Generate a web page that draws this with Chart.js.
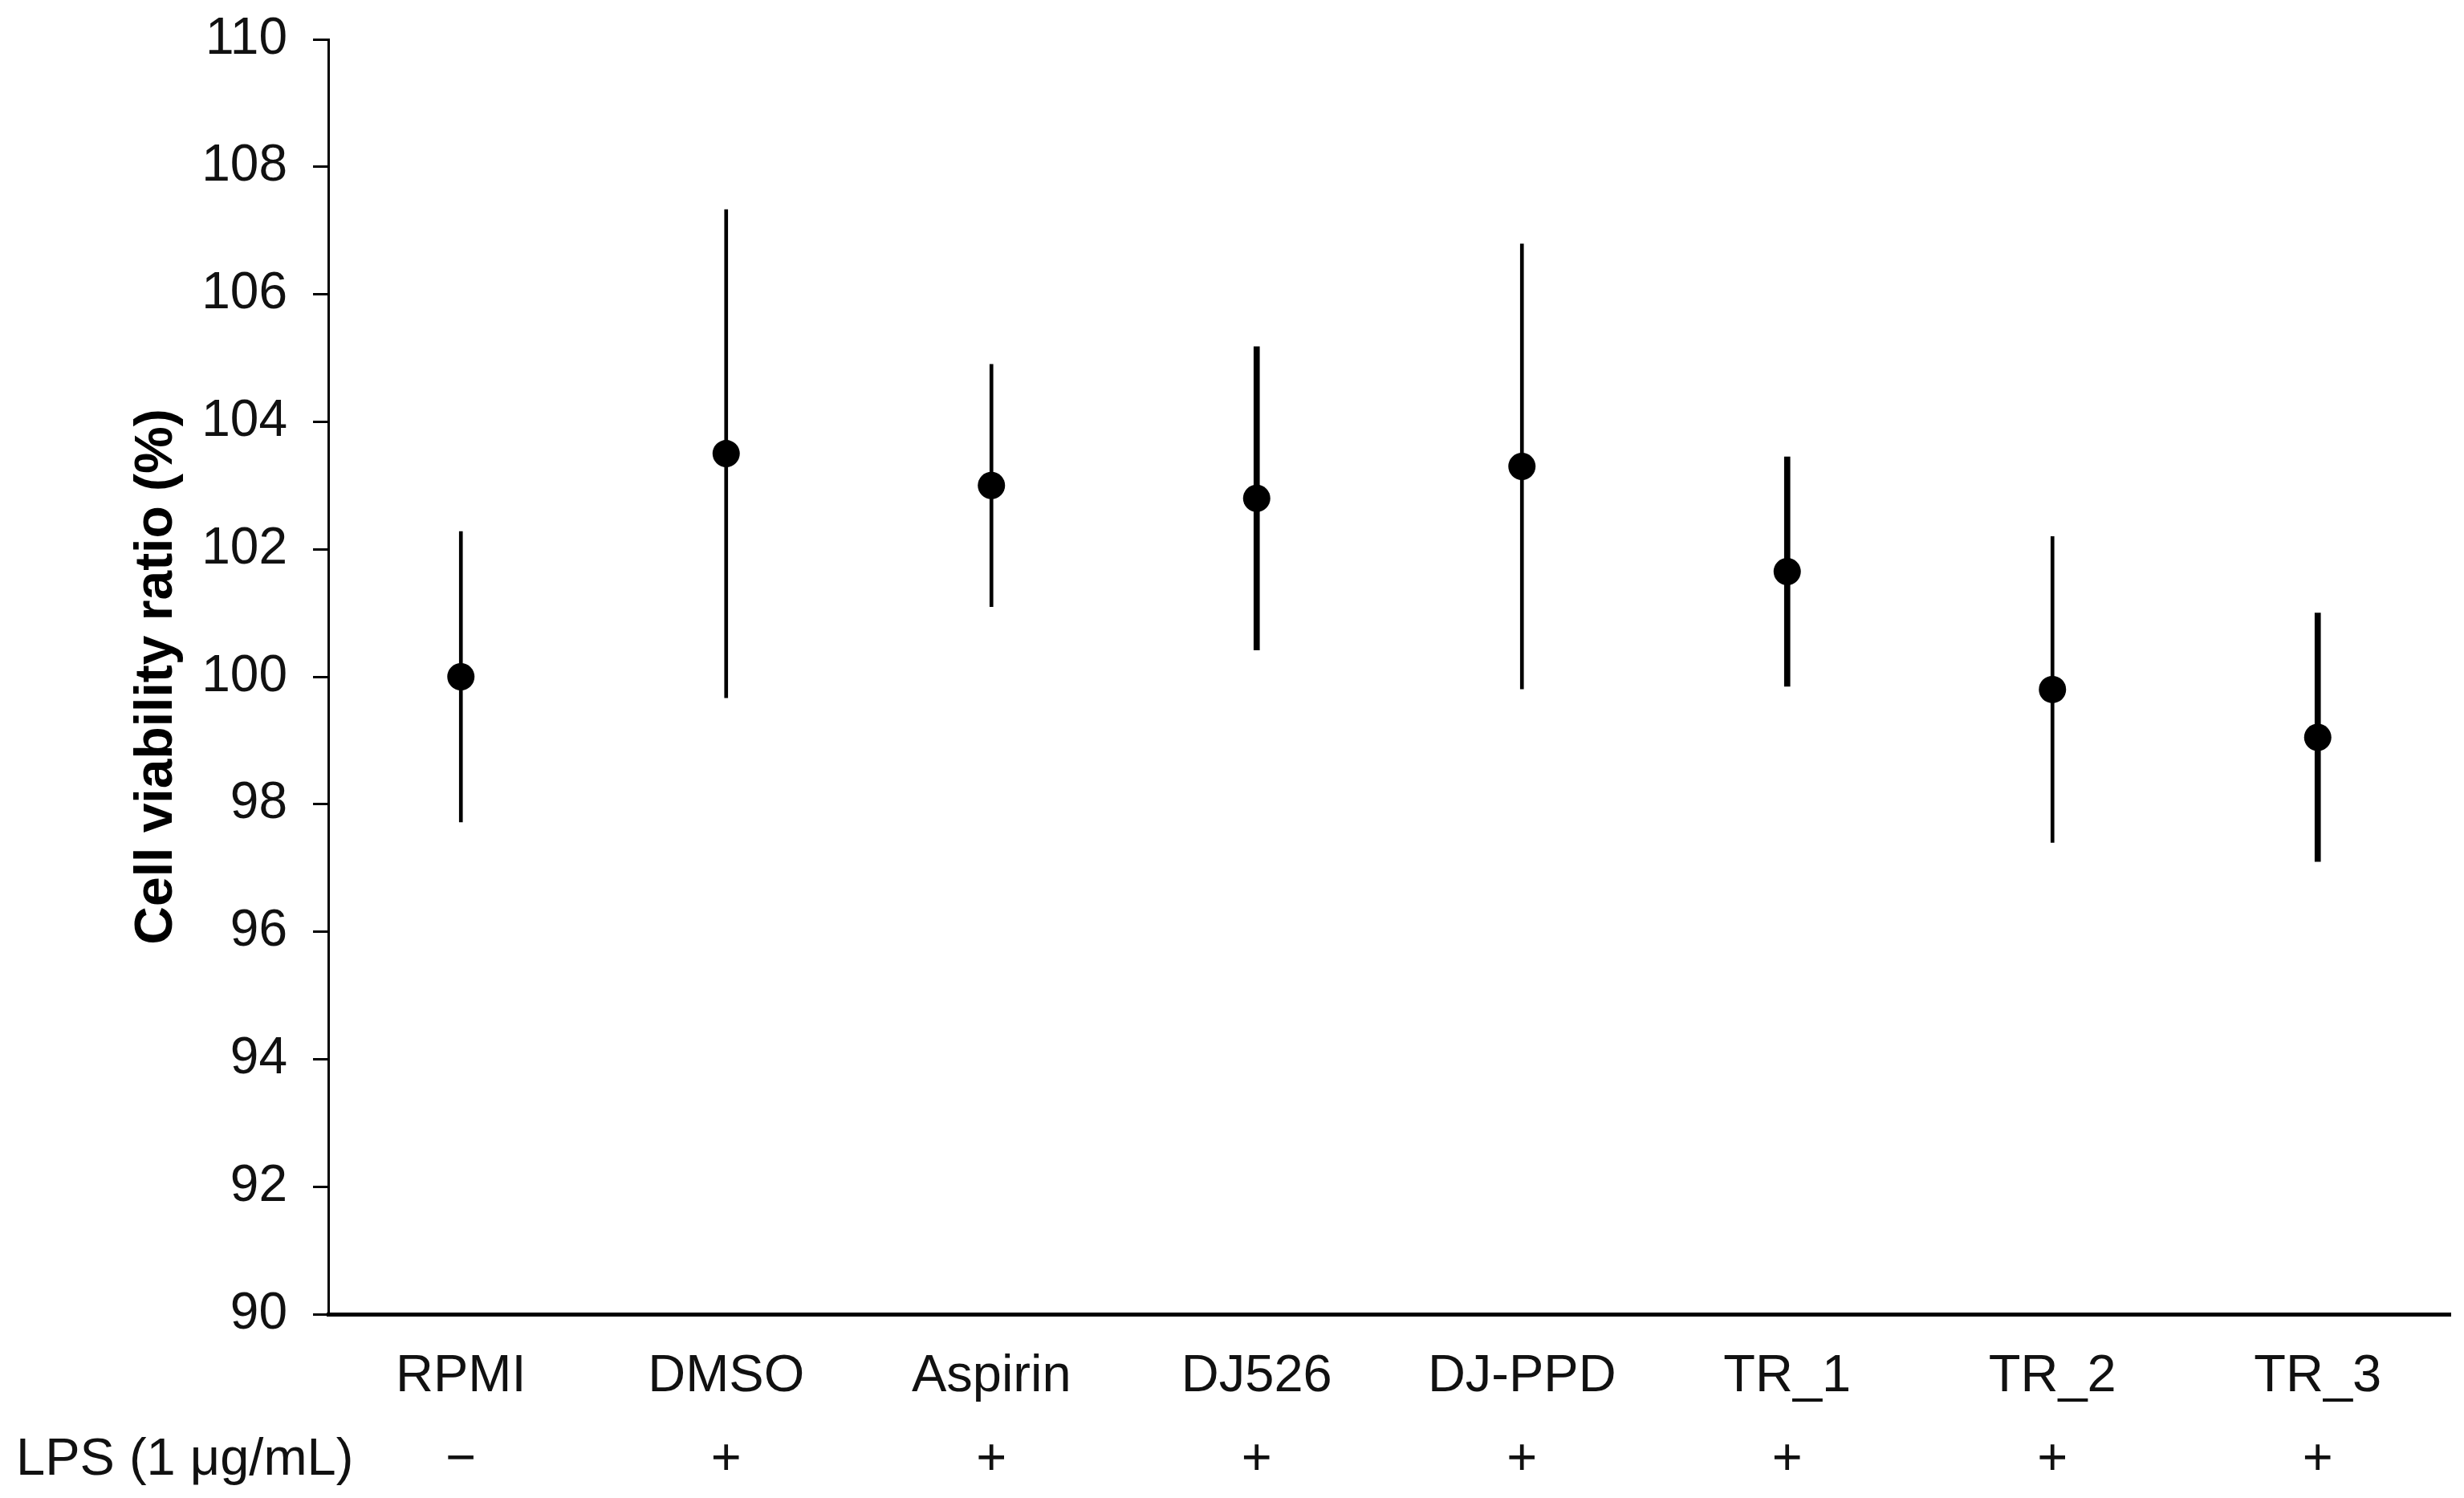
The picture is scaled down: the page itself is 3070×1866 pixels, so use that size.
<!DOCTYPE html>
<html>
<head>
<meta charset="utf-8">
<title>Cell viability</title>
<script src="https://cdn.jsdelivr.net/npm/chart.js@4.4.1/dist/chart.umd.min.js"></script>
<style>
  html, body { margin: 0; padding: 0; background: #fff; }
  #wrap { width: 3070px; height: 1866px; position: relative; }
</style>
</head>
<body>
<div id="wrap"><canvas id="viabilityChart"></canvas></div>
<script>
// values
const categories = ['RPMI', 'DMSO', 'Aspirin', 'DJ526', 'DJ-PPD', 'TR_1', 'TR_2', 'TR_3'];
const lpsSigns = ['\u2212', '+', '+', '+', '+', '+', '+', '+'];
const meanValues = [100.0, 103.5, 103.0, 102.8, 103.3, 101.65, 99.8, 99.05];
const errorValues = [2.28, 3.83, 1.9, 2.38, 3.49, 1.8, 2.4, 1.95];
const yMin = 90;
const yMax = 110;
const yStep = 2;

// some of the error bars are drawn heavier in the original
const heavyBars = ['DJ526', 'TR_1', 'TR_3'];

const fontFamily = '"Liberation Sans", Arial, sans-serif';

const errRange = (i) => [meanValues[i] - errorValues[i], meanValues[i] + errorValues[i]];
const thinBars = categories.map((c, i) => heavyBars.includes(c) ? null : errRange(i));
const thickBars = categories.map((c, i) => heavyBars.includes(c) ? errRange(i) : null);

// LPS row label at the left of the second tick line
const lpsLabel = {
    id: 'lpsLabel',
    afterDraw(chart) {
        const xScale = chart.scales.x;
        const ctx = chart.ctx;
        const tickOpts = xScale.options.ticks;
        const lineH = tickOpts.font.size * tickOpts.font.lineHeight;
        const y = xScale.top + tickOpts.padding + lineH * 1.5;
        ctx.save();
        ctx.font = `${tickOpts.font.size}px ${fontFamily}`;
        ctx.fillStyle = '#111';
        ctx.textAlign = 'left';
        ctx.textBaseline = 'middle';
        ctx.fillText('LPS (1 \u03bcg/mL)', 20, y);
        ctx.restore();
    }
};

const ctx = document.getElementById('viabilityChart').getContext('2d');

new Chart(ctx, {
    type: 'bar',
    data: {
        labels: categories.map((c, i) => [c, lpsSigns[i]]),
        datasets: [
            {
                type: 'line',
                label: 'Mean',
                data: meanValues,
                showLine: false,
                pointRadius: 17,
                pointBackgroundColor: '#000',
                pointBorderWidth: 0,
                order: 0
            },
            {
                label: 'SD',
                data: thinBars,
                backgroundColor: '#000',
                barThickness: 4,
                grouped: false,
                order: 1
            },
            {
                label: 'SD heavy',
                data: thickBars,
                backgroundColor: '#000',
                barThickness: 7,
                grouped: false,
                order: 1
            }
        ]
    },
    options: {
        responsive: true,
        maintainAspectRatio: false,
        animation: false,
        layout: {
            padding: { top: 49, right: 12, bottom: 0, left: 0 }
        },
        plugins: {
            legend: { display: false },
            tooltip: { enabled: false }
        },
        scales: {
            x: {
                offset: true,
                grid: { display: false, drawTicks: false },
                border: { color: '#000', width: 5 },
                ticks: {
                    color: '#111',
                    padding: 26,
                    maxRotation: 0,
                    autoSkip: false,
                    font: { family: fontFamily, size: 65, lineHeight: 1.6 }
                },
                afterFit(scale) { scale.height = 229; }
            },
            y: {
                min: yMin,
                max: yMax,
                grid: {
                    drawOnChartArea: false,
                    drawTicks: true,
                    tickLength: 19,
                    tickWidth: 3,
                    tickColor: '#000'
                },
                border: { color: '#000', width: 3 },
                ticks: {
                    stepSize: yStep,
                    color: '#111',
                    padding: 32,
                    font: { family: fontFamily, size: 64 }
                },
                title: {
                    display: true,
                    text: 'Cell viability ratio (%)',
                    color: '#000',
                    padding: { top: 156, bottom: 0 },
                    font: { family: fontFamily, size: 66, weight: 'bold' }
                },
                afterFit(scale) {
                    scale.width = 409;
                    scale.paddingTop = 0;
                    scale.paddingBottom = 0;
                }
            }
        }
    },
    plugins: [lpsLabel]
});
</script>
</body>
</html>
